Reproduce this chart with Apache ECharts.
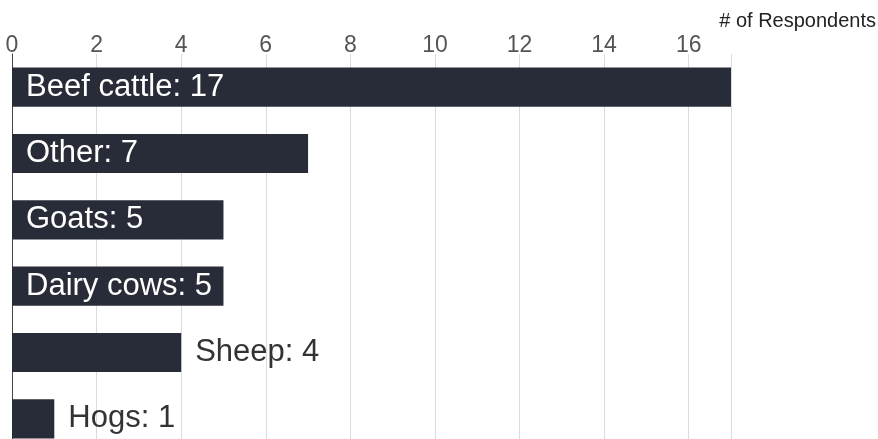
<!DOCTYPE html>
<html>
<head>
<meta charset="utf-8">
<script src="https://cdn.jsdelivr.net/npm/echarts@6/dist/echarts.min.js"></script>
<style>
  html, body { margin: 0; padding: 0; background: #fff; }
  #chart { width: 878px; height: 439px; }
</style>
</head>
<body>
<div id="chart"></div>
<script>
// Livestock types raised by respondents
const categories = ['Beef cattle', 'Other', 'Goats', 'Dairy cows', 'Sheep', 'Hogs'];
const counts = [17, 7, 5, 5, 4, 1];
const axisTitle = '# of Respondents';

// Short bars get their label placed after the bar end
const insideMin = 5;

const barColor = '#282c38';

const seriesData = counts.map(function (v) {
  const inside = v >= insideMin;
  return {
    value: v,
    label: inside
      ? { position: 'insideLeft', color: '#ffffff', distance: 14 }
      : { position: 'right', color: '#333333', distance: 14 }
  };
});

const chart = echarts.init(document.getElementById('chart'));
chart.setOption({
  animation: false,
  title: {
    text: axisTitle,
    right: 2,
    top: 11,
    padding: 0,
    textStyle: { fontFamily: 'Liberation Sans', fontSize: 20, fontWeight: 'normal', color: '#222' }
  },
  // the last row runs past the bottom edge of the canvas
  grid: { left: 12, top: 54, width: 719, height: 398, containLabel: false, outerBoundsMode: 'none' },
  xAxis: {
    type: 'value',
    position: 'top',
    min: 0,
    max: 17,
    interval: 2,
    axisLine: { show: false },
    axisTick: { show: false },
    axisLabel: {
      fontFamily: 'Liberation Sans',
      fontSize: 23,
      color: '#555',
      margin: -3,
      showMaxLabel: false
    },
    splitLine: { show: true, lineStyle: { color: '#d3dde4', width: 1 } }
  },
  yAxis: {
    type: 'category',
    data: categories,
    inverse: true,
    axisLine: { show: true, lineStyle: { color: '#444', width: 1 } },
    axisTick: { show: false },
    axisLabel: { show: false }
  },
  series: [{
    type: 'bar',
    data: seriesData,
    barCategoryGap: '41%',
    itemStyle: { color: barColor },
    label: {
      show: true,
      fontFamily: 'Liberation Sans',
      fontSize: 31,
      formatter: function (p) { return p.name + ': ' + p.value; }
    }
  }]
});
</script>
</body>
</html>
